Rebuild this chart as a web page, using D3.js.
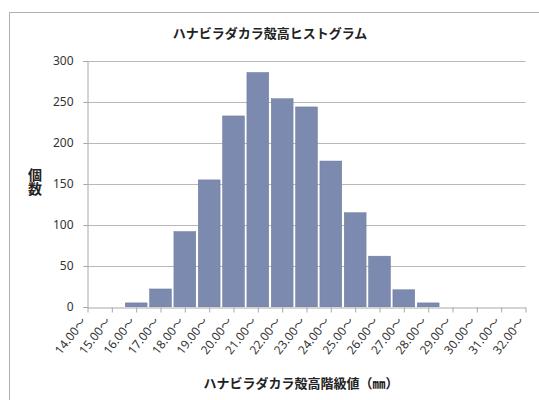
<!DOCTYPE html>
<html>
<head>
<meta charset="utf-8">
<script src="https://cdn.jsdelivr.net/npm/d3@7"></script>
<style>
html,body{margin:0;padding:0;background:#fff;}
text{font-family:"Noto Sans CJK JP","Noto Sans",sans-serif;}
</style>
</head>
<body>
<svg id="chart" width="539" height="400"></svg>
<script>
const categories = ["14.00～","15.00～","16.00～","17.00～","18.00～","19.00～","20.00～","21.00～","22.00～","23.00～","24.00～","25.00～","26.00～","27.00～","28.00～","29.00～","30.00～","31.00～","32.00～"];
const counts = [0,0,5,22,92,155,233,286,254,244,178,115,62,21,5,0,0,0,0];
const yTicks = [0,50,100,150,200,250,300];
const title = "ハナビラダカラ殻高ヒストグラム";
const xTitle = "ハナビラダカラ殻高階級値（㎜）";
const yTitle = "個数";

(function(){
const svg = d3.select("#chart");
svg.append("rect").attr("width",539).attr("height",400).attr("fill","#fff");
svg.append("rect").attr("x",9.5).attr("y",12.5).attr("width",600).attr("height",500)
  .attr("fill","none").attr("stroke","#b0b0b0");

const pL = 87.5, pR = 525.5, pT = 61, pB = 307;
const x = d3.scalePoint().domain(categories).range([pL,pR]).padding(0);
const y = d3.scaleLinear().domain([0,300]).range([pB,pT]);
const step = x.step();
const barW = step - 2.5;

svg.append("defs").append("clipPath").attr("id","plotclip")
  .append("rect").attr("x",pL).attr("y",pT-5).attr("width",pR-pL).attr("height",pB-pT+5);

// gridlines
svg.append("g").selectAll("line").data(yTicks.filter(d=>d>0)).join("line")
  .attr("x1",pL-4).attr("x2",pR).attr("y1",d=>Math.round(y(d))+0.5).attr("y2",d=>Math.round(y(d))+0.5)
  .attr("stroke","#b8b8b8").attr("stroke-width",1);

// bars
svg.append("g").attr("clip-path","url(#plotclip)").selectAll("rect").data(categories).join("rect")
  .attr("x",d=>x(d)-barW/2).attr("width",barW)
  .attr("y",(d,i)=>y(counts[i])).attr("height",(d,i)=>pB-y(counts[i]))
  .attr("fill","#7b8aae").attr("stroke","#6d7b9c").attr("stroke-width",0.5);

// y axis
const yAxis = d3.axisLeft(y).tickValues(yTicks).tickSize(4).tickPadding(10);
const gy = svg.append("g").attr("transform",`translate(${pL},0)`).call(yAxis);
gy.select(".domain").attr("stroke","#a8a8a8");
gy.selectAll(".tick line").attr("stroke","#a8a8a8");
gy.selectAll(".tick text").attr("font-size",12).attr("fill","#333")
  .style("font-family","'Noto Sans','Noto Sans CJK JP',sans-serif");

// x axis
const xAxis = d3.axisBottom(x).tickSize(5).tickSizeOuter(0);
const gx = svg.append("g").attr("transform",`translate(0,${pB+0.5})`).call(xAxis);
gx.select(".domain").attr("stroke","#a8a8a8");
gx.selectAll(".tick line").attr("stroke","#a8a8a8");
gx.selectAll(".tick text")
  .attr("font-size",12).attr("fill","#333")
  .style("font-family","'Noto Sans','Noto Sans CJK JP',sans-serif")
  .attr("text-anchor","end").attr("dy",null).attr("y",0)
  .attr("transform","translate(-1,14) rotate(-52)");

// titles
svg.append("text").attr("x",270).attr("y",38).attr("text-anchor","middle")
  .attr("font-size",13).attr("font-weight","bold").attr("fill","#222").text(title);
svg.append("text").attr("x",301).attr("y",388).attr("text-anchor","middle")
  .attr("font-size",13).attr("font-weight","bold").attr("fill","#222").text(xTitle);
svg.append("text").attr("x",35).attr("y",168)
  .style("writing-mode","vertical-rl").style("text-orientation","upright")
  .attr("font-size",14).attr("font-weight","bold").attr("fill","#222").text(yTitle);
})();
</script>
</body>
</html>
